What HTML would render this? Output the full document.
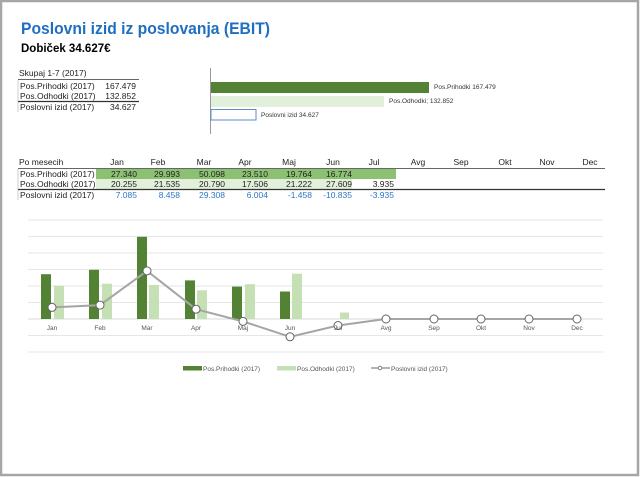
<!DOCTYPE html>
<html><head><meta charset="utf-8"><style>
html,body{margin:0;padding:0;background:#fff}
svg{display:block;font-family:"Liberation Sans",sans-serif}
</style></head><body>
<svg width="640" height="477" viewBox="0 0 640 477" xmlns="http://www.w3.org/2000/svg">
<rect x="0" y="0" width="640" height="477" fill="#fff"/>
<rect x="1" y="1" width="637" height="474" fill="none" stroke="#a6a6a6" stroke-width="2.5"/>
<text x="21" y="34" font-size="17" font-weight="bold" fill="#1f6fc1" textLength="249" lengthAdjust="spacingAndGlyphs">Poslovni izid iz poslovanja (EBIT)</text>
<text x="21" y="52" font-size="11.5" font-weight="bold" fill="#000">Dobiček  34.627€</text>
<!-- summary table -->
<g font-size="8.5" fill="#222">
<text x="19" y="76">Skupaj  1-7 (2017)</text>
<line x1="18" y1="79.5" x2="139" y2="79.5" stroke="#333" stroke-width="0.8"/>
<text x="20" y="89">Pos.Prihodki (2017)</text><text x="136" y="89" text-anchor="end">167.479</text>
<text x="20" y="99">Pos.Odhodki (2017)</text><text x="136" y="99" text-anchor="end">132.852</text>
<line x1="18" y1="101.5" x2="139" y2="101.5" stroke="#333" stroke-width="1.3"/>
<text x="20" y="110">Poslovni izid (2017)</text><text x="136" y="110" text-anchor="end">34.627</text>
<line x1="18" y1="80" x2="18" y2="112" stroke="#999" stroke-width="0.5"/>
</g>
<!-- bar chart -->
<line x1="210.5" y1="68" x2="210.5" y2="134" stroke="#999" stroke-width="1"/>
<rect x="211" y="82" width="218" height="11" fill="#548235"/>
<rect x="211" y="96" width="173" height="11" fill="#e2efda"/>
<rect x="211" y="109.5" width="45" height="10.5" fill="#fff" stroke="#5b8ec9" stroke-width="1"/>
<g font-size="6.5" fill="#333">
<text x="434" y="89">Pos.Prihodki 167.479</text>
<text x="389" y="103">Pos.Odhodki; 132.852</text>
<text x="261" y="117">Poslovni izid 34.627</text>
</g>
<!-- monthly table -->
<rect x="96" y="169" width="300" height="10" fill="#8cc174"/>
<rect x="96" y="179" width="256" height="10" fill="#e2efda"/>
<g font-size="8.5" fill="#222">
<text x="19" y="165">Po mesecih</text>
<g text-anchor="middle">
<text x="117" y="165">Jan</text><text x="158" y="165">Feb</text><text x="204" y="165">Mar</text><text x="245" y="165">Apr</text><text x="289" y="165">Maj</text><text x="333" y="165">Jun</text><text x="374" y="165">Jul</text><text x="418" y="165">Avg</text><text x="461" y="165">Sep</text><text x="505" y="165">Okt</text><text x="547" y="165">Nov</text><text x="590" y="165">Dec</text>
</g>
<line x1="18" y1="168.5" x2="605" y2="168.5" stroke="#333" stroke-width="0.8"/>
<text x="20" y="177">Pos.Prihodki (2017)</text>
<text x="20" y="187">Pos.Odhodki (2017)</text>
<line x1="18" y1="189.5" x2="605" y2="189.5" stroke="#333" stroke-width="1.3"/>
<text x="20" y="198">Poslovni izid (2017)</text>
<line x1="18" y1="169" x2="18" y2="200" stroke="#999" stroke-width="0.5"/>
<g text-anchor="end">
<text x="137" y="177">27.340</text><text x="180" y="177">29.993</text><text x="225" y="177">50.098</text><text x="268" y="177">23.510</text><text x="312" y="177">19.764</text><text x="352" y="177">16.774</text>
<text x="137" y="187">20.255</text><text x="180" y="187">21.535</text><text x="225" y="187">20.790</text><text x="268" y="187">17.506</text><text x="312" y="187">21.222</text><text x="352" y="187">27.609</text><text x="394" y="187">3.935</text>
<g fill="#2e75c6">
<text x="137" y="198">7.085</text><text x="180" y="198">8.458</text><text x="225" y="198">29.308</text><text x="268" y="198">6.004</text><text x="312" y="198">-1.458</text><text x="352" y="198">-10.835</text><text x="394" y="198">-3.935</text>
</g>
</g>
</g>
<!-- combo chart -->
<g stroke="#e6e6e6" stroke-width="1">
<line x1="28" y1="220" x2="603" y2="220"/>
<line x1="28" y1="236.5" x2="603" y2="236.5"/>
<line x1="28" y1="253" x2="603" y2="253"/>
<line x1="28" y1="269.5" x2="603" y2="269.5"/>
<line x1="28" y1="286" x2="603" y2="286"/>
<line x1="28" y1="302.5" x2="603" y2="302.5"/>
<line x1="28" y1="319" x2="603" y2="319" stroke="#d9d9d9"/>
<line x1="28" y1="335.5" x2="603" y2="335.5"/>
<line x1="28" y1="352" x2="603" y2="352"/>
</g>
<g fill="#548235">
<rect x="41" y="274.2" width="10" height="44.8"/>
<rect x="89" y="269.8" width="10" height="49.2"/>
<rect x="137" y="236.8" width="10" height="82.2"/>
<rect x="185" y="280.4" width="10" height="38.6"/>
<rect x="232" y="286.6" width="10" height="32.4"/>
<rect x="280" y="291.5" width="10" height="27.5"/>
</g>
<g fill="#c5e0b4">
<rect x="54" y="285.8" width="10" height="33.2"/>
<rect x="102" y="283.7" width="10" height="35.3"/>
<rect x="149" y="284.9" width="10" height="34.1"/>
<rect x="197" y="290.3" width="10" height="28.7"/>
<rect x="245" y="284.2" width="10" height="34.8"/>
<rect x="292" y="273.7" width="10" height="45.3"/>
<rect x="340" y="312.5" width="9" height="6.5"/>
</g>
<polyline fill="none" stroke="#a5a5a5" stroke-width="2" points="52,307.4 100,305.1 147,270.9 196,309.2 243,321.4 290,336.8 338,325.5 386,319 434,319 481,319 529,319 577,319"/>
<g fill="#fff" stroke="#666" stroke-width="1">
<circle cx="52" cy="307.4" r="4"/><circle cx="100" cy="305.1" r="4"/><circle cx="147" cy="270.9" r="4"/><circle cx="196" cy="309.2" r="4"/><circle cx="243" cy="321.4" r="4"/><circle cx="290" cy="336.8" r="4"/><circle cx="338" cy="325.5" r="4"/><circle cx="386" cy="319" r="4"/><circle cx="434" cy="319" r="4"/><circle cx="481" cy="319" r="4"/><circle cx="529" cy="319" r="4"/><circle cx="577" cy="319" r="4"/>
</g>
<g font-size="6.5" fill="#555" text-anchor="middle">
<text x="52" y="330">Jan</text><text x="100" y="330">Feb</text><text x="147" y="330">Mar</text><text x="196" y="330">Apr</text><text x="243" y="330">Maj</text><text x="290" y="330">Jun</text><text x="338" y="330">Jul</text><text x="386" y="330">Avg</text><text x="434" y="330">Sep</text><text x="481" y="330">Okt</text><text x="529" y="330">Nov</text><text x="577" y="330">Dec</text>
</g>
<rect x="183" y="366" width="19" height="4.5" fill="#548235"/>
<rect x="277" y="366" width="19" height="4.5" fill="#c5e0b4"/>
<line x1="371" y1="368" x2="390" y2="368" stroke="#888" stroke-width="1.2"/>
<circle cx="380" cy="368" r="1.8" fill="#fff" stroke="#666" stroke-width="0.8"/>
<g font-size="6.5" fill="#555">
<text x="203" y="371">Pos.Prihodki (2017)</text>
<text x="297" y="371">Pos.Odhodki (2017)</text>
<text x="391" y="371">Poslovni izid (2017)</text>
</g>
</svg>
</body></html>
